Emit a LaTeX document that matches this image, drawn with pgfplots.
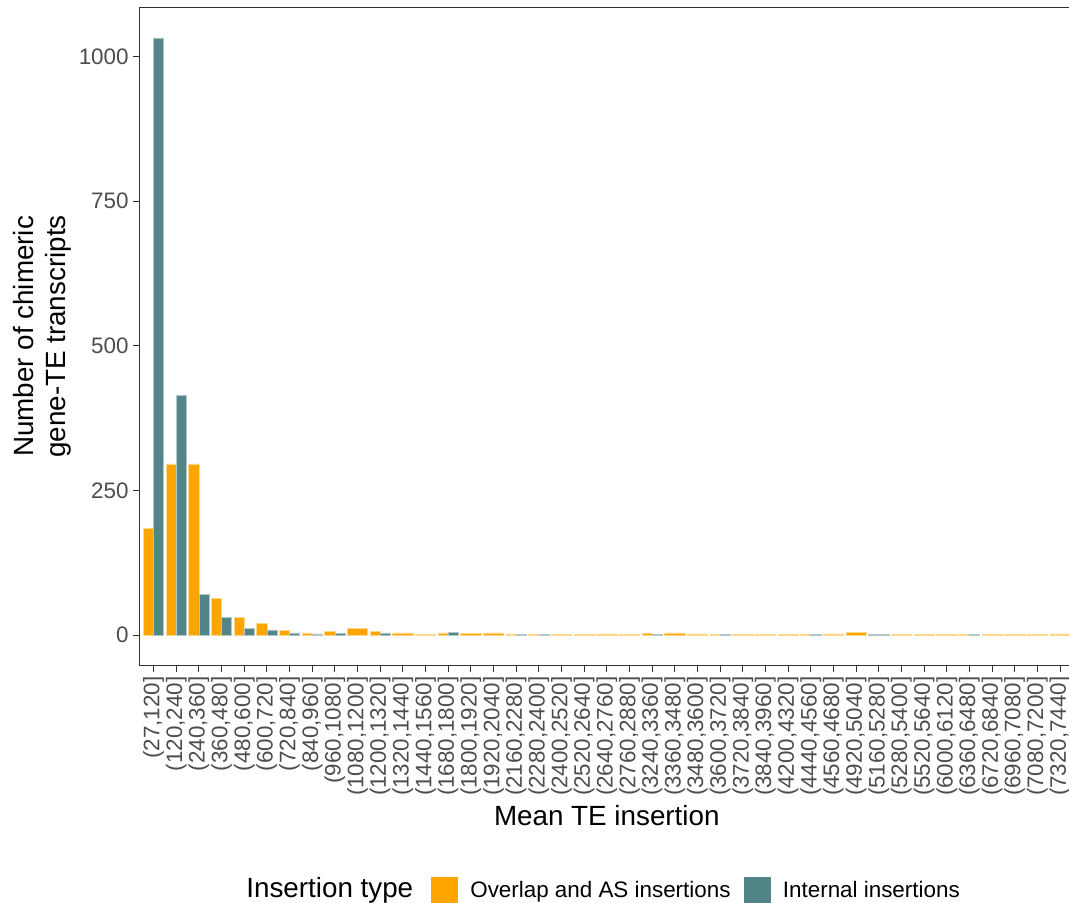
\documentclass[border=0pt]{standalone}
\usepackage{fontspec}
\setmainfont{Liberation Sans}
\usepackage{pgfplots}
\pgfplotsset{compat=1.18}
\usepackage{pgfplotstable}
\definecolor{ovl}{HTML}{FFA500}
\definecolor{intl}{RGB}{82,133,135}
\definecolor{gtick}{HTML}{4D4D4D}
\definecolor{gline}{HTML}{333333}

\pgfplotstableread{
x y
0 185
1 296
2 296
3 64
4 30
5 20
6 8
7 4
8 6
10 7
13 4
16 2
17 1
22 3
25 1
29 1
36 1
}\orangedodge

\pgfplotstableread{
x y
0 1032
1 414
2 71
3 30
4 11
5 9
6 4
7 2
8 3
10 4
13 5
16 1
17 1
22 1
25 1
29 1
36 1
}\tealdodge

\pgfplotstableread{
x y
9 12
11 4
12 1
14 3
15 4
18 1
19 1
20 2
21 1
23 4
24 2
26 1
27 1
28 1
30 2
31 5
33 1
34 1
35 1
37 1
38 1
39 1
40 2
}\orangefull

\pgfplotstableread{
x y
32 1
}\tealfull

\begin{document}
\begin{tikzpicture}
\path[use as bounding box] (-70pt,-119pt) rectangle (464.5pt,332.5pt);
\begin{axis}[
  at={(0pt,0pt)}, anchor=south west,
  scale only axis, width=466.8pt, height=328.5pt,
  xmin=-0.6, xmax=40.6, ymin=-51.6, ymax=1083.6,
  clip=false,
  ybar, bar width=0.45,
  xtick={0,...,40},
  xticklabels={{(27,120]},{(120,240]},{(240,360]},{(360,480]},{(480,600]},{(600,720]},{(720,840]},{(840,960]},{(960,1080]},{(1080,1200]},{(1200,1320]},{(1320,1440]},{(1440,1560]},{(1680,1800]},{(1800,1920]},{(1920,2040]},{(2160,2280]},{(2280,2400]},{(2400,2520]},{(2520,2640]},{(2640,2760]},{(2760,2880]},{(3240,3360]},{(3360,3480]},{(3480,3600]},{(3600,3720]},{(3720,3840]},{(3840,3960]},{(4200,4320]},{(4440,4560]},{(4560,4680]},{(4920,5040]},{(5160,5280]},{(5280,5400]},{(5520,5640]},{(6000,6120]},{(6360,6480]},{(6720,6840]},{(6960,7080]},{(7080,7200]},{(7320,7440]}},
  ytick={0,250,500,750,1000},
  /pgf/number format/assume math mode=true,
  /pgf/number format/1000 sep={},
  scaled y ticks=false,
  tick align=outside, tick pos=left, major tick length=3.5pt,
  tick style={gline, line width=0.5pt},
  axis line style={gline, line width=0.5pt},
  xticklabel style={rotate=90, anchor=east, font=\fontsize{11.2}{13}\selectfont, text=gtick, inner sep=2pt},
  yticklabel style={font=\fontsize{11.2}{13}\selectfont, text=gtick, inner sep=2pt},
  xlabel={Mean TE insertion},
  ylabel={Number of chimeric\\gene-TE transcripts},
  every axis x label/.style={at={(axis description cs:0.5,-0.213)}, anchor=north, inner sep=0pt, font=\fontsize{13.9}{16}\selectfont},
  every axis y label/.style={at={(axis description cs:-0.0733,0.5)}, rotate=90, anchor=south, inner sep=0pt, align=center, font=\fontsize{13.9}{16}\selectfont},
  legend image code/.code={\draw[#1, draw=none] (0pt,-6.75pt) rectangle (13.5pt,6.75pt);},
  legend style={at={(axis description cs:0.3114,-0.3432)}, anchor=west, draw=none, fill=none, inner sep=0pt,
    font=\fontsize{11.2}{13}\selectfont,
    /tikz/every odd column/.append style={column sep=4.1pt},
    /tikz/every even column/.append style={column sep=4.6pt}},
  legend columns=-1,
  legend cell align=left,
]
\addplot[fill=ovl, draw=ovl!45!white, line width=0.3pt, bar shift=-0.225] table[x=x,y=y]{\orangedodge};
\addlegendentry{Overlap and AS insertions}
\addplot[fill=intl, draw=intl!45!white, line width=0.3pt, bar shift=0.225] table[x=x,y=y]{\tealdodge};
\addlegendentry{Internal insertions}
\addplot[fill=ovl, draw=ovl!45!white, line width=0.3pt, bar width=0.9, bar shift=0, forget plot] table[x=x,y=y]{\orangefull};
\addplot[fill=intl, draw=intl!45!white, line width=0.3pt, bar width=0.9, bar shift=0, forget plot] table[x=x,y=y]{\tealfull};
\node[anchor=east, inner sep=0pt, font=\fontsize{13.9}{16}\selectfont] at (axis description cs:0.2931,-0.3432) {Insertion type};
\end{axis}
\end{tikzpicture}
\end{document}
